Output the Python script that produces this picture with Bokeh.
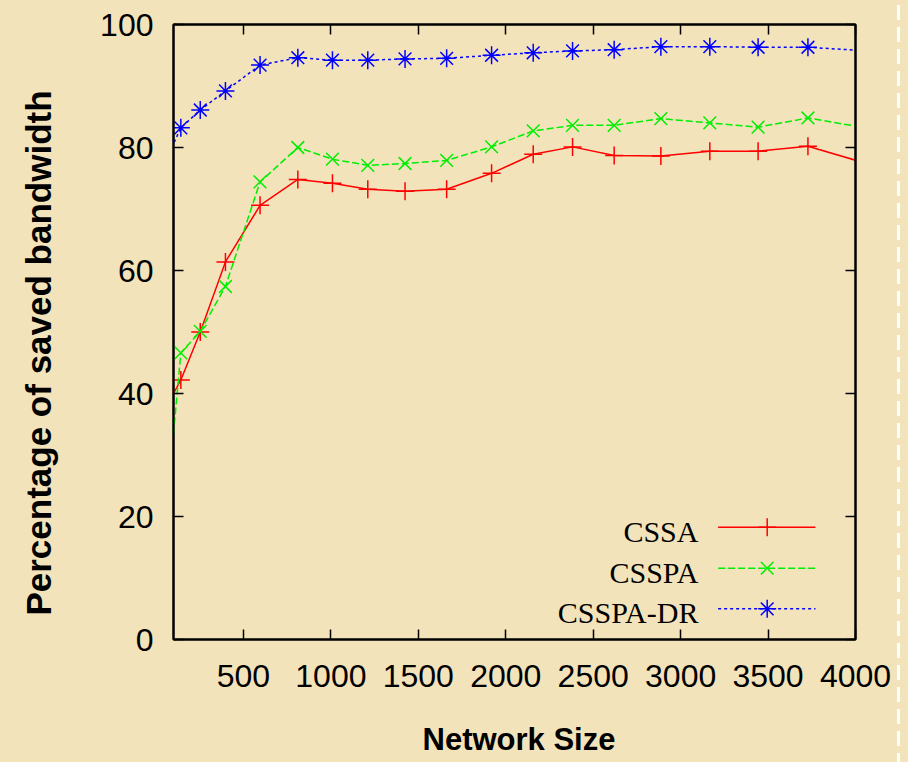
import math
from bokeh.plotting import figure
from bokeh.models import Range1d, LinearAxis, FixedTicker, ColumnDataSource, Div
from bokeh.layouts import row, column
from bokeh.core.properties import value
from bokeh.embed import file_html
from bokeh.resources import INLINE

# ---- data ----
network_size = [32, 142, 253, 397, 595, 811, 1009, 1211, 1424, 1662, 1919,
                2157, 2382, 2620, 2887, 3167, 3443, 3728, 4016]
cssa = [36.4, 42.2, 50.0, 61.4, 70.6, 74.8, 74.2, 73.2, 72.9, 73.2, 75.8,
        78.9, 80.1, 78.7, 78.6, 79.4, 79.4, 80.2, 77.8]
csspa = [12.3, 46.6, 50.1, 57.4, 74.4, 80.0, 78.1, 77.1, 77.4, 77.9, 80.1,
         82.7, 83.6, 83.6, 84.7, 84.0, 83.3, 84.8, 83.4]
csspa_dr = [76.4, 83.2, 86.1, 89.2, 93.4, 94.6, 94.2, 94.2, 94.4, 94.5, 95.0,
            95.4, 95.7, 95.9, 96.4, 96.4, 96.3, 96.3, 95.8]

series_names = ["CSSA", "CSSPA", "CSSPA-DR"]
x_ticks = [500, 1000, 1500, 2000, 2500, 3000, 3500, 4000]
x_tick_labels = ["500", "1000", "1500", "2000", "2500", "3000", "3500", "4000"]
y_ticks = [0, 20, 40, 60, 80, 100]
y_tick_labels = ["0", "20", "40", "60", "80", "100"]
x_title = "Network Size"
y_title = "Percentage of saved bandwidth"

# ---- style / layout sizes ----
BG = "#F3E3BB"
SANS = "Liberation Sans"
SERIF = "Liberation Serif"
TOP, FRAME_H, FRAME_W = 24, 615, 682
HT = 714      # height of the plot row
HB = 48       # height of the bottom strip (x title)
WL = 68       # left strip (y title)
WP = 824      # main plot width
WR = 16       # right strip (dashed border)
BOTTOM = HT - TOP - FRAME_H

# ---- left strip holding the y-axis title (frame aligned with the plot frame) ----
lt = figure(width=WL, height=HT, x_range=Range1d(0, WL),
            y_range=Range1d(TOP + FRAME_H, TOP),
            output_backend="svg", toolbar_location=None,
            min_border_left=0, min_border_right=0,
            min_border_top=TOP, min_border_bottom=BOTTOM,
            x_axis_location=None, y_axis_location=None,
            background_fill_color=BG, border_fill_color=BG, outline_line_color=None)
lt.grid.visible = False
lt.text([37.5], [352.5], text=[y_title], angle=math.pi / 2,
        text_align="center", text_baseline="middle",
        text_font=value(SANS), text_font_size="35px", text_font_style="bold",
        text_color="black")

# ---- main plot ----
p = figure(frame_width=FRAME_W, frame_height=FRAME_H,
           x_range=Range1d(100, 4000), y_range=Range1d(0, 100),
           min_border_left=105, min_border_right=WP - 105 - FRAME_W,
           min_border_top=TOP, min_border_bottom=BOTTOM,
           output_backend="svg", toolbar_location=None,
           background_fill_color=BG, border_fill_color=BG,
           outline_line_color="black", outline_line_width=2)
p.grid.visible = False

p.xaxis.ticker = FixedTicker(ticks=x_ticks)
p.xaxis.major_label_overrides = dict(zip(x_ticks, x_tick_labels))
p.yaxis.ticker = FixedTicker(ticks=y_ticks)
p.yaxis.major_label_overrides = dict(zip(y_ticks, y_tick_labels))

for ax in (p.xaxis[0], p.yaxis[0]):
    ax.axis_line_width = 2
    ax.major_tick_in = 10
    ax.major_tick_out = 0
    ax.major_tick_line_width = 1.5
    ax.minor_tick_line_color = None
    ax.major_label_text_font = SANS
    ax.major_label_text_font_size = "32px"
    ax.major_label_text_color = "black"

p.xaxis.major_label_standoff = 25
p.yaxis.major_label_standoff = 20

# mirrored ticks (no labels)
top = LinearAxis(ticker=FixedTicker(ticks=x_ticks), major_label_text_color=None,
                 axis_line_width=2, major_tick_in=10, major_tick_out=0,
                 major_tick_line_width=1.5, minor_tick_line_color=None,
                 major_label_standoff=0, major_label_text_font_size="1px")
right = LinearAxis(ticker=FixedTicker(ticks=y_ticks), major_label_text_color=None,
                   axis_line_width=2, major_tick_in=10, major_tick_out=0,
                   major_tick_line_width=1.5, minor_tick_line_color=None,
                   major_label_standoff=0, major_label_text_font_size="1px")
p.add_layout(top, "above")
p.add_layout(right, "right")

# ---- series ----
src = ColumnDataSource(dict(x=network_size, a=cssa, b=csspa, c=csspa_dr))
pts = ColumnDataSource(dict(x=network_size[1:-1], a=cssa[1:-1], b=csspa[1:-1], c=csspa_dr[1:-1]))

colors = ["#FF0000", "#00EE00", "#0000FF"]
dashes = ["solid", "7 3", "3 3"]
markers = ["cross", "x", "asterisk"]
cols = ["a", "b", "c"]
for col, c, d, m in zip(cols, colors, dashes, markers):
    p.line("x", col, source=src, line_color=c, line_width=1.5, line_dash=d)
    p.scatter("x", col, source=pts, marker=m, size=18, line_color=c, line_width=1.5)

# ---- legend (text on the left, sample on the right, like gnuplot) ----
p.extra_x_ranges = {"leg": Range1d(0, 1)}
p.extra_y_ranges = {"leg": Range1d(0, 1)}
leg_y = [0.1827, 0.116, 0.0499]
for name, ly, c, d, m in zip(series_names, leg_y, colors, dashes, markers):
    p.line([0.7986, 0.9413], [ly, ly], x_range_name="leg", y_range_name="leg",
           line_color=c, line_width=1.5, line_dash=d)
    p.scatter([0.8705], [ly], x_range_name="leg", y_range_name="leg",
              marker=m, size=18, line_color=c, line_width=1.5)
    p.text([0.7697], [ly], text=[name], x_range_name="leg", y_range_name="leg",
           text_font=value(SERIF), text_font_size="30px", text_align="right",
           text_baseline="middle", y_offset=4, text_color="black")

# ---- bottom strip holding the x-axis title ----
b = figure(width=WL + WP, height=HB, x_range=Range1d(0, WL + WP),
           y_range=Range1d(HT + HB, HT),
           output_backend="svg", toolbar_location=None, min_border=0,
           x_axis_location=None, y_axis_location=None,
           background_fill_color=BG, border_fill_color=BG, outline_line_color=None)
b.grid.visible = False
b.text([518.5], [738.5], text=[x_title], text_align="center", text_baseline="middle",
       text_font=value(SANS), text_font_size="31px", text_font_style="bold",
       text_color="black")

# ---- dashed white border on the right ----
dash_strip = Div(text="", width=WR, height=HT + HB, styles={
    "background-color": BG,
    "background-image": "repeating-linear-gradient(to bottom, #ffffff 0px, #ffffff 15px, "
                        "rgba(255,255,255,0) 15px, rgba(255,255,255,0) 22px)",
    "background-size": "3px 100%",
    "background-position": "0px 0px",
    "background-repeat": "no-repeat",
})

bg_style = {"background-color": BG}
layout = row(column(row(lt, p, spacing=0, styles=bg_style), b, spacing=0, styles=bg_style),
             dash_strip, spacing=0, styles=bg_style)
open("out.html", "w").write(file_html(layout, INLINE))
